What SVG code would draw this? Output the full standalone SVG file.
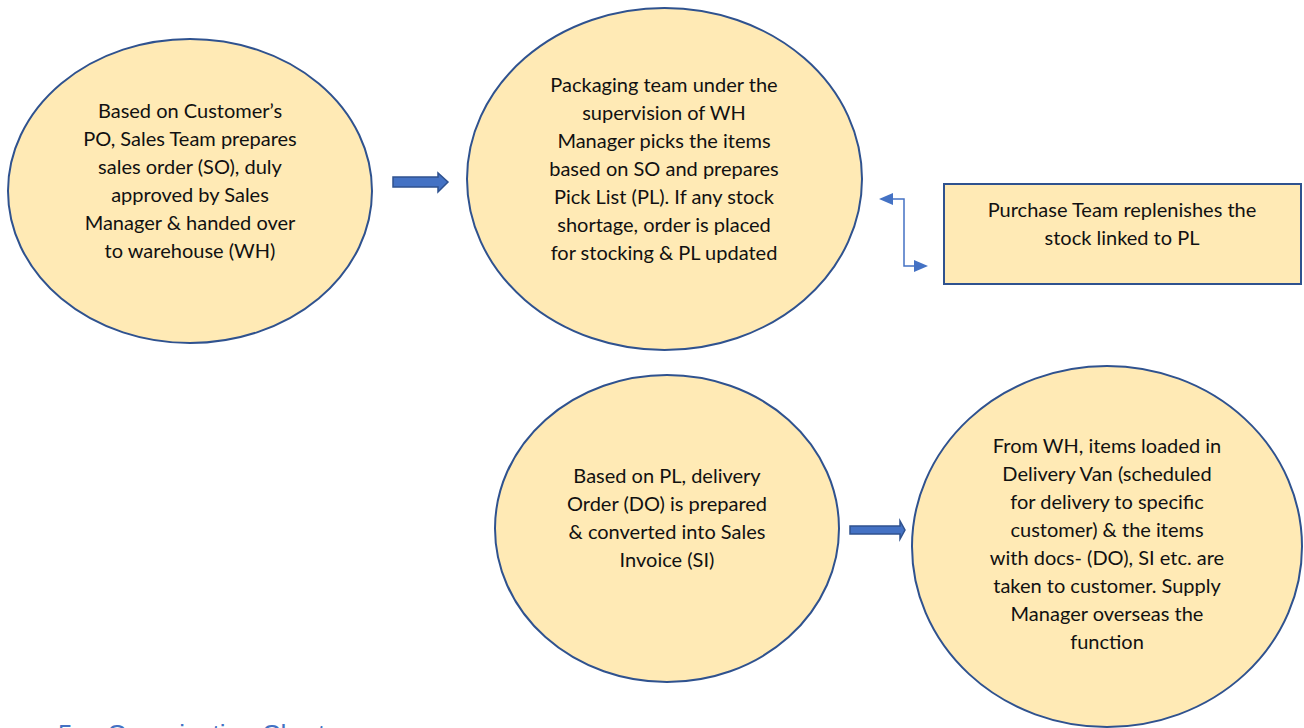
<svg xmlns="http://www.w3.org/2000/svg" width="1304" height="728" viewBox="0 0 1304 728">
<defs>
<style>
.node{fill:#FFEAB5;stroke:#2F528F;stroke-width:2}
.t{font-family:Lato,"Liberation Sans",sans-serif;font-size:20px;fill:#111;text-anchor:middle}
.blk{fill:#4472C4;stroke:#2F528F;stroke-width:1.5}
.ln{fill:none;stroke:#4472C4;stroke-width:1.5}
.hd{fill:#4472C4}
.h{font-family:"Liberation Sans",sans-serif;font-size:26px;fill:#4472C4}
</style>
</defs>
<rect width="1304" height="728" fill="#fff"/>
<g id="n1">
<ellipse class="node" cx="190" cy="191" rx="182" ry="152"/>
<text class="t"><tspan x="190" y="118">Based on Customer’s</tspan><tspan x="190" y="146">PO, Sales Team prepares</tspan><tspan x="190" y="174">sales order (SO), duly</tspan><tspan x="190" y="202">approved by Sales</tspan><tspan x="190" y="230">Manager &amp; handed over</tspan><tspan x="190" y="258">to warehouse (WH)</tspan></text>
</g>
<g id="n2">
<ellipse class="node" cx="664.5" cy="179" rx="197.5" ry="171"/>
<text class="t"><tspan x="664" y="92">Packaging team under the</tspan><tspan x="664" y="120">supervision of WH</tspan><tspan x="664" y="148">Manager picks the items</tspan><tspan x="664" y="176">based on SO and prepares</tspan><tspan x="664" y="204">Pick List (PL). If any stock</tspan><tspan x="664" y="232">shortage, order is placed</tspan><tspan x="664" y="260">for stocking &amp; PL updated</tspan></text>
</g>
<g id="n3">
<rect class="node" x="944" y="184" width="357" height="100"/>
<text class="t"><tspan x="1122" y="217">Purchase Team replenishes the</tspan><tspan x="1122" y="245">stock linked to PL</tspan></text>
</g>
<g id="n4">
<ellipse class="node" cx="667" cy="528.5" rx="172" ry="153.5"/>
<text class="t"><tspan x="667" y="483">Based on PL, delivery</tspan><tspan x="667" y="511">Order (DO) is prepared</tspan><tspan x="667" y="539">&amp; converted into Sales</tspan><tspan x="667" y="567">Invoice (SI)</tspan></text>
</g>
<g id="n5">
<ellipse class="node" cx="1107" cy="546.5" rx="195" ry="180.5"/>
<text class="t"><tspan x="1107" y="453">From WH, items loaded in</tspan><tspan x="1107" y="481">Delivery Van (scheduled</tspan><tspan x="1107" y="509">for delivery to specific</tspan><tspan x="1107" y="537">customer) &amp; the items</tspan><tspan x="1107" y="565">with docs- (DO), SI etc. are</tspan><tspan x="1107" y="593">taken to customer. Supply</tspan><tspan x="1107" y="621">Manager overseas the</tspan><tspan x="1107" y="649">function</tspan></text>
</g>
<g id="connectors">
<polygon class="blk" points="393,177 438,177 438,173 448,182 438,192 438,187 393,187"/>
<polygon class="blk" points="850,526 900,526 900,521 905,530 900,539 900,534 850,534"/>
<polyline class="ln" points="892,199 904,199 904,266 916,266"/>
<polygon class="hd" points="879,199 893,193 893,205"/>
<polygon class="hd" points="928,266 914,260 914,272"/>
</g>
<text class="h" x="58" y="743">5.</text>
<text class="h" x="107" y="743">Organization Chart</text>
</svg>
